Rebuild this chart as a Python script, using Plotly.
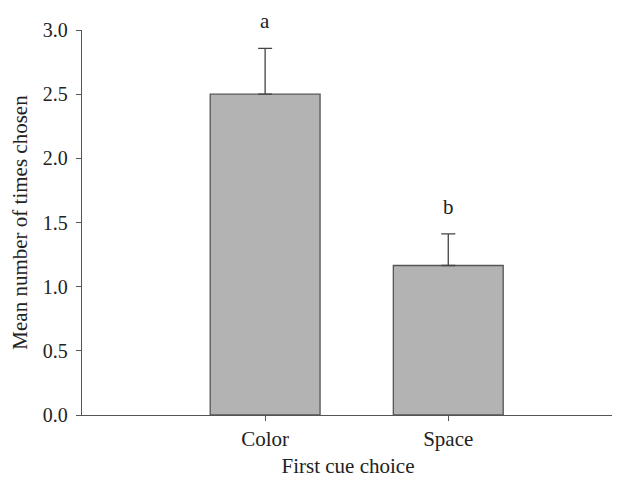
import plotly.graph_objects as go

categories = ["Color", "Space"]
means = [2.50, 1.165]
errors_up = [0.357, 0.247]
letters = ["a", "b"]
y_ticks = [0.0, 0.5, 1.0, 1.5, 2.0, 2.5, 3.0]
y_tick_text = ["0.0", "0.5", "1.0", "1.5", "2.0", "2.5", "3.0"]

FONT = "Liberation Serif"
AX = "#555555"
FS = 21

fig = go.Figure()
fig.add_trace(go.Bar(
    x=[0, 1], y=means, width=0.6,
    marker=dict(color="#b3b3b3", line=dict(color="#555555", width=1.3)),
    error_y=dict(type="data", symmetric=False, array=errors_up,
                 arrayminus=[0, 0], color="#444444", thickness=1.3, width=7),
    showlegend=False,
))

for i, (m, e, l) in enumerate(zip(means, errors_up, letters)):
    fig.add_annotation(x=i, y=m + e, text=l, showarrow=False,
                       yanchor="bottom", yshift=13,
                       font=dict(family=FONT, size=FS, color="#222222"))

# page body adds an 8px offset, so the figure is 8px smaller
fig.update_layout(
    width=612, height=470,
    margin=dict(l=74, r=6, t=22, b=63),
    paper_bgcolor="white", plot_bgcolor="white",
    font=dict(family=FONT, size=FS, color="#222222"),
    xaxis=dict(range=[-1.0, 1.905], tickvals=[0, 1], ticktext=categories,
               automargin=False,
               showline=True, linecolor=AX, linewidth=1.3,
               ticks="outside", ticklen=5, tickcolor=AX, tickwidth=1.3,
               showgrid=False, zeroline=False,
               title=dict(text="First cue choice", standoff=7,
                          font=dict(family=FONT, size=FS))),
    yaxis=dict(range=[0, 3.0], tickvals=y_ticks, ticktext=y_tick_text,
               automargin=False, ticklabelstandoff=4,
               tickfont=dict(family=FONT, size=20),
               showline=True, linecolor=AX, linewidth=1.3,
               ticks="outside", ticklen=5, tickcolor=AX, tickwidth=1.3,
               showgrid=False, zeroline=False,
               title=dict(text="Mean number of times chosen", standoff=9,
                          font=dict(family=FONT, size=FS))),
)

fig.write_html("out.html")
